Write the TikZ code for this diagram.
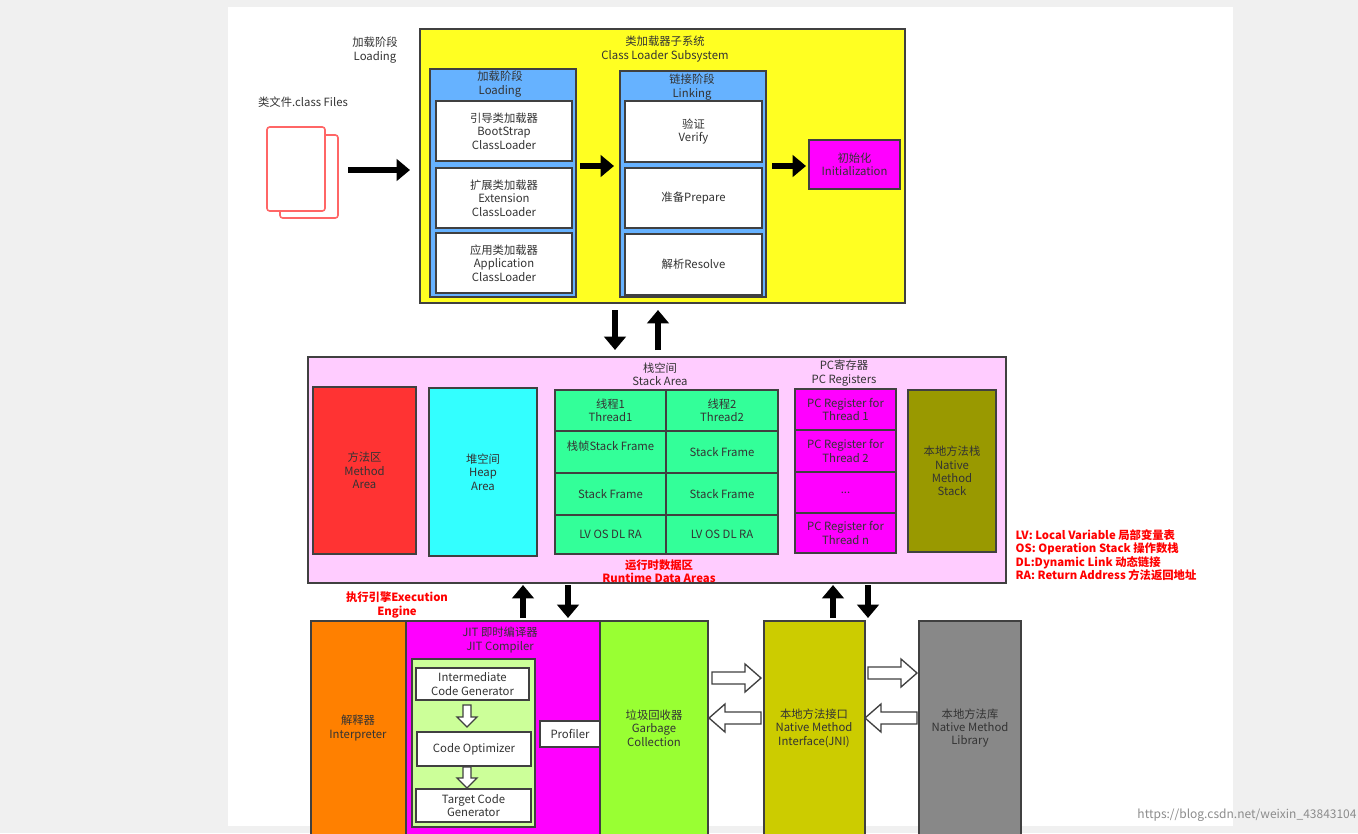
\documentclass[tikz,border=0pt]{standalone}
\usepackage{fontspec}
\setmainfont{Noto Sans CJK SC}
\usetikzlibrary{arrows.meta}
\definecolor{cyel}{HTML}{FFFF22}
\definecolor{cblue}{HTML}{66B2FF}
\definecolor{cmag}{HTML}{FF00FF}
\definecolor{cpink}{HTML}{FFCCFF}
\definecolor{cred}{HTML}{FF3333}
\definecolor{ccyan}{HTML}{33FFFF}
\definecolor{cgreen}{HTML}{33FF99}
\definecolor{colive}{HTML}{999900}
\definecolor{corange}{HTML}{FF8000}
\definecolor{clime}{HTML}{99FF33}
\definecolor{cjni}{HTML}{CCCC00}
\definecolor{cgray}{HTML}{888888}
\definecolor{clg}{HTML}{CCFF99}
\definecolor{ctxt}{HTML}{333333}
\definecolor{cline}{HTML}{404040}
\definecolor{cbg}{HTML}{F0F0F0}
\newcommand\bx[6]{\node[box,fill=#1,minimum width={(#4-#2)*0.75pt},minimum height={(#5-#3)*0.75pt}] (#6) at ({(#2+#4)/2},{(#3+#5)/2}) {};}
\newcommand\hollowR[3]{\draw[hol] (#1,#3-6)--(#2-16,#3-6)--(#2-16,#3-14)--(#2,#3)--(#2-16,#3+14)--(#2-16,#3+6)--(#1,#3+6)--cycle;}
\newcommand\hollowL[3]{\draw[hol] (#1,#3-6)--(#2+16,#3-6)--(#2+16,#3-14)--(#2,#3)--(#2+16,#3+14)--(#2+16,#3+6)--(#1,#3+6)--cycle;}
\newcommand\hollowD[3]{\draw[hol] (#3-4,#1)--(#3-4,#2-10)--(#3-10,#2-10)--(#3,#2)--(#3+10,#2-10)--(#3+4,#2-10)--(#3+4,#1)--cycle;}
\begin{document}
\begin{tikzpicture}[x=0.75pt,y=-0.75pt,
 box/.style={draw=cline,line width=1.5pt,inner sep=0pt,outer sep=0pt},
 t/.style={font=\fontsize{8.5}{10}\selectfont,text=ctxt,align=center},
 r/.style={font=\fontsize{8.5}{10}\selectfont\bfseries,text=red,align=center},
 blk/.style={line width=5pt,-{Triangle[width=16pt,length=10pt]}},
 hol/.style={draw=cline,line width=1pt,fill=white}]
\useasboundingbox (0,0) rectangle (1358,833);
\fill[cbg] (0,0) rectangle (1358,833);
\fill[white] (228,7) rectangle (1233,826);
% top
\node[t] (lbl) at (375,50) {加载阶段\\Loading};
\node[t] (files) at (303,102) {类文件.class Files};
\draw[red!60,line width=1.2pt,fill=white,rounded corners=2pt] (280,135) rectangle (338,218);
\draw[red!60,line width=1.2pt,fill=white,rounded corners=2pt] (267,127) rectangle (325,211);
\coordinate (a1s) at (348,170); \coordinate (a1e) at (410,170);
\draw[blk] (a1s)--(a1e);
\bx{cyel}{420}{29}{905}{303}{cls}
\node[t] at (665,49) {类加载器子系统\\Class Loader Subsystem};
\bx{cblue}{430}{69}{576}{297}{load}
\node[t] at (500,84) {加载阶段\\Loading};
\bx{white}{436}{101}{572}{161}{bs}\node[t] at (bs) {引导类加载器\\BootStrap\\ClassLoader};
\bx{white}{436}{168}{572}{228}{ext}\node[t] at (ext) {扩展类加载器\\Extension\\ClassLoader};
\bx{white}{436}{233}{572}{293}{app}\node[t] at (app) {应用类加载器\\Application\\ClassLoader};
\coordinate (a2s) at (580,166); \coordinate (a2e) at (614,166);
\draw[blk] (a2s)--(a2e);
\bx{cblue}{620}{71}{766}{297}{link}
\node[t] at (692,87) {链接阶段\\Linking};
\bx{white}{625}{101}{762}{162}{ver}\node[t] at (ver) {验证\\Verify};
\bx{white}{625}{168}{762}{228}{pre}\node[t] at (pre) {准备Prepare};
\bx{white}{625}{234}{762}{295}{res}\node[t] at (res) {解析Resolve};
\coordinate (a3s) at (772,166); \coordinate (a3e) at (806,166);
\draw[blk] (a3s)--(a3e);
\bx{cmag}{809}{140}{900}{189}{init}\node[t] at (init) {初始化\\Initialization};
\coordinate (d1s) at (615,310); \coordinate (d1e) at (615,350);
\draw[blk] (d1s)--(d1e);
\coordinate (u1s) at (658,350); \coordinate (u1e) at (658,310);
\draw[blk] (u1s)--(u1e);
% runtime
\bx{cpink}{308}{357}{1006}{583}{rt}
\node[t] at (660,374) {栈空间\\Stack Area};
\node[t] at (844,373) {PC寄存器\\PC Registers};
\bx{cred}{313}{387}{416}{554}{ma}\node[t] at (ma) {方法区\\Method\\Area};
\bx{ccyan}{429}{388}{537}{556}{heap}\node[t] at (heap) {堆空间\\Heap\\Area};
\bx{cgreen}{555}{390}{666}{431}{g11}\node[t] at (g11) {线程1\\Thread1};
\bx{cgreen}{666}{390}{778}{431}{g12}\node[t] at (g12) {线程2\\Thread2};
\bx{cgreen}{555}{431}{666}{473}{g21}\node[t,yshift=4pt] at (g21) {栈帧Stack Frame};
\bx{cgreen}{666}{431}{778}{473}{g22}\node[t] at (g22) {Stack Frame};
\bx{cgreen}{555}{473}{666}{515}{g31}\node[t] at (g31) {Stack Frame};
\bx{cgreen}{666}{473}{778}{515}{g32}\node[t] at (g32) {Stack Frame};
\bx{cgreen}{555}{515}{666}{554}{g41}\node[t] at (g41) {LV OS DL RA};
\bx{cgreen}{666}{515}{778}{554}{g42}\node[t] at (g42) {LV OS DL RA};
\bx{cmag}{795}{389}{896}{430}{p1}\node[t] at (p1) {PC Register for\\Thread 1};
\bx{cmag}{795}{430}{896}{472}{p2}\node[t] at (p2) {PC Register for\\Thread 2};
\bx{cmag}{795}{472}{896}{513}{p3}\node[t] at (p3) {...};
\bx{cmag}{795}{513}{896}{553}{p4}\node[t] at (p4) {PC Register for\\Thread n};
\bx{colive}{908}{390}{996}{552}{nms}\node[t] at (nms) {本地方法栈\\Native\\Method\\Stack};
\node[r] at (659,571) {运行时数据区\\Runtime Data Areas};
\node[r,align=left,anchor=north west] at (1011,525) {LV: Local Variable 局部变量表\\OS: Operation Stack 操作数栈\\DL:Dynamic Link 动态链接\\RA: Return Address 方法返回地址};
\coordinate (u2s) at (523,618); \coordinate (u2e) at (523,585);
\draw[blk] (u2s)--(u2e);
\coordinate (d2s) at (568,585); \coordinate (d2e) at (568,618);
\draw[blk] (d2s)--(d2e);
\coordinate (u3s) at (833,618); \coordinate (u3e) at (833,585);
\draw[blk] (u3s)--(u3e);
\coordinate (d3s) at (868,585); \coordinate (d3e) at (868,618);
\draw[blk] (d3s)--(d3e);
\node[r] at (397,605) {执行引擎Execution\\Engine};
% bottom
\bx{corange}{311}{621}{406}{840}{int}\node[t] at (358,728) {解释器\\Interpreter};
\bx{cmag}{406}{621}{600}{840}{jit}\node[t] at (500,640) {JIT 即时编译器\\JIT Compiler};
\bx{clime}{600}{621}{708}{840}{gc}\node[t] at (654,728) {垃圾回收器\\Garbage\\Collection};
\bx{clg}{412}{659}{535}{827}{jin}
\bx{white}{416}{668}{529}{700}{icg}\node[t] at (icg) {Intermediate\\Code Generator};
\bx{white}{417}{732}{531}{766}{co}\node[t] at (co) {Code Optimizer};
\bx{white}{416}{789}{531}{822}{tcg}\node[t] at (tcg) {Target Code\\Generator};
\bx{white}{540}{721}{600}{747}{prof}\node[t] at (prof) {Profiler};
\hollowD{705}{727}{467}
\hollowD{767}{788}{467}
\bx{cjni}{764}{621}{865}{840}{jni}\node[t] at (814,728) {本地方法接口\\Native Method\\Interface(JNI)};
\bx{cgray}{919}{621}{1021}{840}{lib}\node[t] at (970,728) {本地方法库\\Native Method\\Library};
\hollowR{712}{761}{678}
\hollowL{761}{709}{718}
\hollowR{868}{917}{673}
\hollowL{917}{865}{718}
\node[font=\fontsize{9}{10}\selectfont,text=black!45] at (1247,815) {https://blog.csdn.net/weixin\_43843104};
\end{tikzpicture}
\end{document}
